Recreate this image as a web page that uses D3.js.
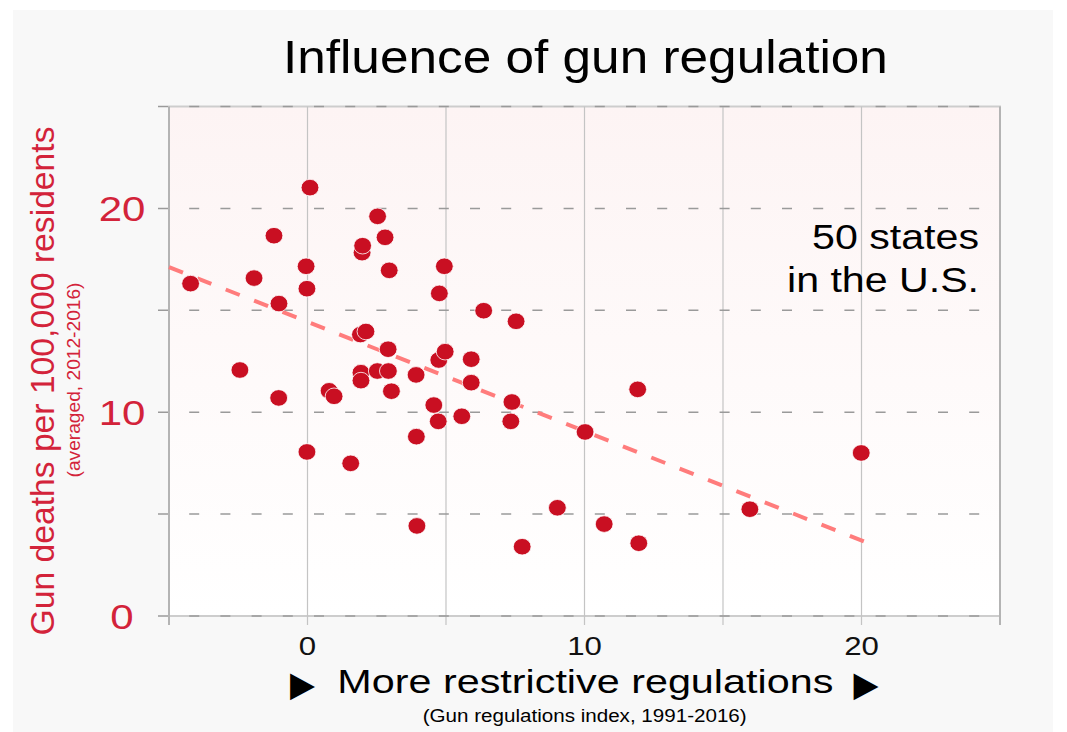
<!DOCTYPE html>
<html>
<head>
<meta charset="utf-8">
<script src="https://cdn.jsdelivr.net/npm/d3@7"></script>
<style>
	body { margin: 0; background: #fff; }
	svg text { font-family: "Liberation Sans", Arial, sans-serif; }
</style>
</head>
<body>
<div id="chart"></div>
<script>

// gun regulations index (x) and gun deaths per 100k (y), one entry per state
const regIndex = [-4.22, -2.44, -1.93, -1.21, -1.03, -1.04, -0.05, -0.02, 0.09, -0.02,
	0.78, 0.96, 1.56, 1.97, 1.99, 1.91, 2.11, 1.93, 1.93, 2.53,
	2.52, 2.80, 2.95, 2.91, 2.92, 3.03, 3.92, 3.93, 3.95, 4.56,
	4.76, 4.74, 4.72, 4.94, 4.97, 5.57, 5.91, 5.91, 6.36, 7.38,
	7.34, 7.53, 7.75, 9.02, 10.02, 10.71, 11.92, 11.96, 15.97, 19.99];
const gunDeaths = [16.31, 12.07, 16.58, 18.66, 15.33, 10.70, 17.16, 16.06, 21.02, 8.05,
	11.05, 10.78, 7.49, 17.83, 18.17, 13.81, 13.96, 11.94, 11.55, 19.61,
	12.02, 18.58, 16.96, 13.09, 12.02, 11.03, 11.83, 8.80, 4.42, 10.35,
	15.83, 12.56, 9.55, 17.16, 12.97, 9.80, 12.60, 11.45, 14.98, 10.50,
	9.55, 14.46, 3.40, 5.31, 9.03, 4.51, 11.12, 3.57, 5.24, 8.00];

// dashed trend line end points
const trendX = [-5, 20.25];
const trendY = [17.12, 3.57];

const gridX = [-5, 0, 5, 10, 15, 20, 25];
const gridY = [0, 5, 10, 15, 20, 25];
const xTickLabels = [0, 10, 20];
const yTickLabels = [0, 10, 20];

const red = "#d3233a";
const dotRed = "#c90f22";

let svg = d3.select("#chart").append("svg")
	.attr("width", 1067)
	.attr("height", 732);

svg.append("rect")
	.attr("x", 13).attr("y", 10)
	.attr("width", 1040).attr("height", 722)
	.attr("fill", "#f8f8f8");

let x = d3.scaleLinear().domain([-5, 25]).range([169, 1000]);
let y = d3.scaleLinear().domain([0, 25]).range([616, 106.5]);

// plot background, pink at the top fading to white
let grad = svg.append("defs").append("linearGradient")
	.attr("id", "plotBg")
	.attr("x1", 0).attr("y1", 0).attr("x2", 0).attr("y2", 1);
grad.append("stop").attr("offset", 0).attr("stop-color", "#fdf4f4");
grad.append("stop").attr("offset", 1).attr("stop-color", "#ffffff");

svg.append("rect")
	.attr("x", x(-5)).attr("y", y(25))
	.attr("width", x(25) - x(-5)).attr("height", y(0) - y(25))
	.attr("fill", "url(#plotBg)")
	.attr("stroke", "#cdcdcd")
	.attr("stroke-width", 2);

// vertical grid lines (solid), with a short tick below the plot
svg.append("g").selectAll("line")
	.data(gridX)
	.join("line")
	.attr("x1", d => x(d)).attr("x2", d => x(d))
	.attr("y1", y(25)).attr("y2", y(0) + 9)
	.attr("stroke", d => (d == -5 || d == 25) ? "#b4b4b4" : "#c4c4c4")
	.attr("stroke-width", d => (d == -5 || d == 25) ? 2 : 1.2);

// horizontal grid lines (dashed)
svg.append("g").selectAll("line")
	.data(gridY)
	.join("line")
	.attr("x1", x(-5) - 11).attr("x2", x(25))
	.attr("y1", d => y(d)).attr("y2", d => y(d))
	.attr("stroke", "#9a9a9a")
	.attr("stroke-width", 1.5)
	.attr("stroke-dasharray", "10,21.2");

// trend line
svg.append("path")
	.datum(trendX.map((d, i) => [d, trendY[i]]))
	.attr("fill", "none")
	.attr("stroke", "#ff7c7c")
	.attr("stroke-width", 4)
	.attr("stroke-dasharray", "15,15.5")
	.attr("d", d3.line().x(d => x(d[0])).y(d => y(d[1])));

// states
svg.append("g").selectAll("ellipse")
	.data(regIndex.map((d, i) => ({ reg: d, deaths: gunDeaths[i] })))
	.join("ellipse")
	.attr("cx", d => x(d.reg))
	.attr("cy", d => y(d.deaths))
	.attr("rx", 8.9)
	.attr("ry", 8.3)
	.attr("fill", dotRed)
	.attr("stroke", "#fff")
	.attr("stroke-width", 0.8);

// tick labels (slightly widened like the original)
svg.append("g").selectAll("g")
	.data(yTickLabels)
	.join("g")
	.attr("transform", d => `translate(122,${y(d)}) scale(1.2,1)`)
	.append("text")
	.attr("text-anchor", "middle")
	.attr("dy", "0.36em")
	.attr("font-size", 35)
	.attr("fill", red)
	.text(d => d);

svg.append("g").selectAll("g")
	.data(xTickLabels)
	.join("g")
	.attr("transform", d => `translate(${x(d)},655) scale(1.2,1)`)
	.append("text")
	.attr("text-anchor", "middle")
	.attr("font-size", 26)
	.attr("fill", "#111")
	.text(d => d);

// title
svg.append("text")
	.attr("x", 585.4).attr("y", 73.3)
	.attr("text-anchor", "middle")
	.attr("font-size", 45.5)
	.attr("textLength", 605)
	.attr("lengthAdjust", "spacingAndGlyphs")
	.attr("fill", "#000")
	.text("Influence of gun regulation");

// annotation
svg.append("text")
	.attr("x", 979).attr("y", 248.6)
	.attr("text-anchor", "end")
	.attr("font-size", 35.7)
	.attr("textLength", 167)
	.attr("lengthAdjust", "spacingAndGlyphs")
	.text("50 states");
svg.append("text")
	.attr("x", 979).attr("y", 291.8)
	.attr("text-anchor", "end")
	.attr("font-size", 35.7)
	.attr("textLength", 192)
	.attr("lengthAdjust", "spacingAndGlyphs")
	.text("in the U.S.");

// x axis title
svg.append("text")
	.attr("x", 585.3).attr("y", 692.7)
	.attr("text-anchor", "middle")
	.attr("font-size", 33.5)
	.attr("textLength", 496)
	.attr("lengthAdjust", "spacingAndGlyphs")
	.text("More restrictive regulations");

[302.5, 866].forEach(cx => {
	svg.append("text")
		.attr("x", cx).attr("y", 695.5)
		.attr("text-anchor", "middle")
		.attr("font-size", 35)
		.style("font-family", "'DejaVu Sans'")
		.attr("textLength", 25)
		.attr("lengthAdjust", "spacingAndGlyphs")
		.text("\u25B6");
});

svg.append("text")
	.attr("x", 584.7).attr("y", 721.7)
	.attr("text-anchor", "middle")
	.attr("font-size", 18.3)
	.attr("textLength", 324)
	.attr("lengthAdjust", "spacingAndGlyphs")
	.text("(Gun regulations index, 1991-2016)");

// y axis title
svg.append("text")
	.attr("transform", "translate(53.5,381) rotate(-90)")
	.attr("text-anchor", "middle")
	.attr("font-size", 34)
	.attr("textLength", 509)
	.attr("lengthAdjust", "spacingAndGlyphs")
	.attr("fill", red)
	.text("Gun deaths per 100,000 residents");

svg.append("text")
	.attr("transform", "translate(80,380) rotate(-90)")
	.attr("text-anchor", "middle")
	.attr("font-size", 19)
	.attr("textLength", 195)
	.attr("lengthAdjust", "spacingAndGlyphs")
	.attr("fill", red)
	.text("(averaged, 2012-2016)");

</script>
</body>
</html>
